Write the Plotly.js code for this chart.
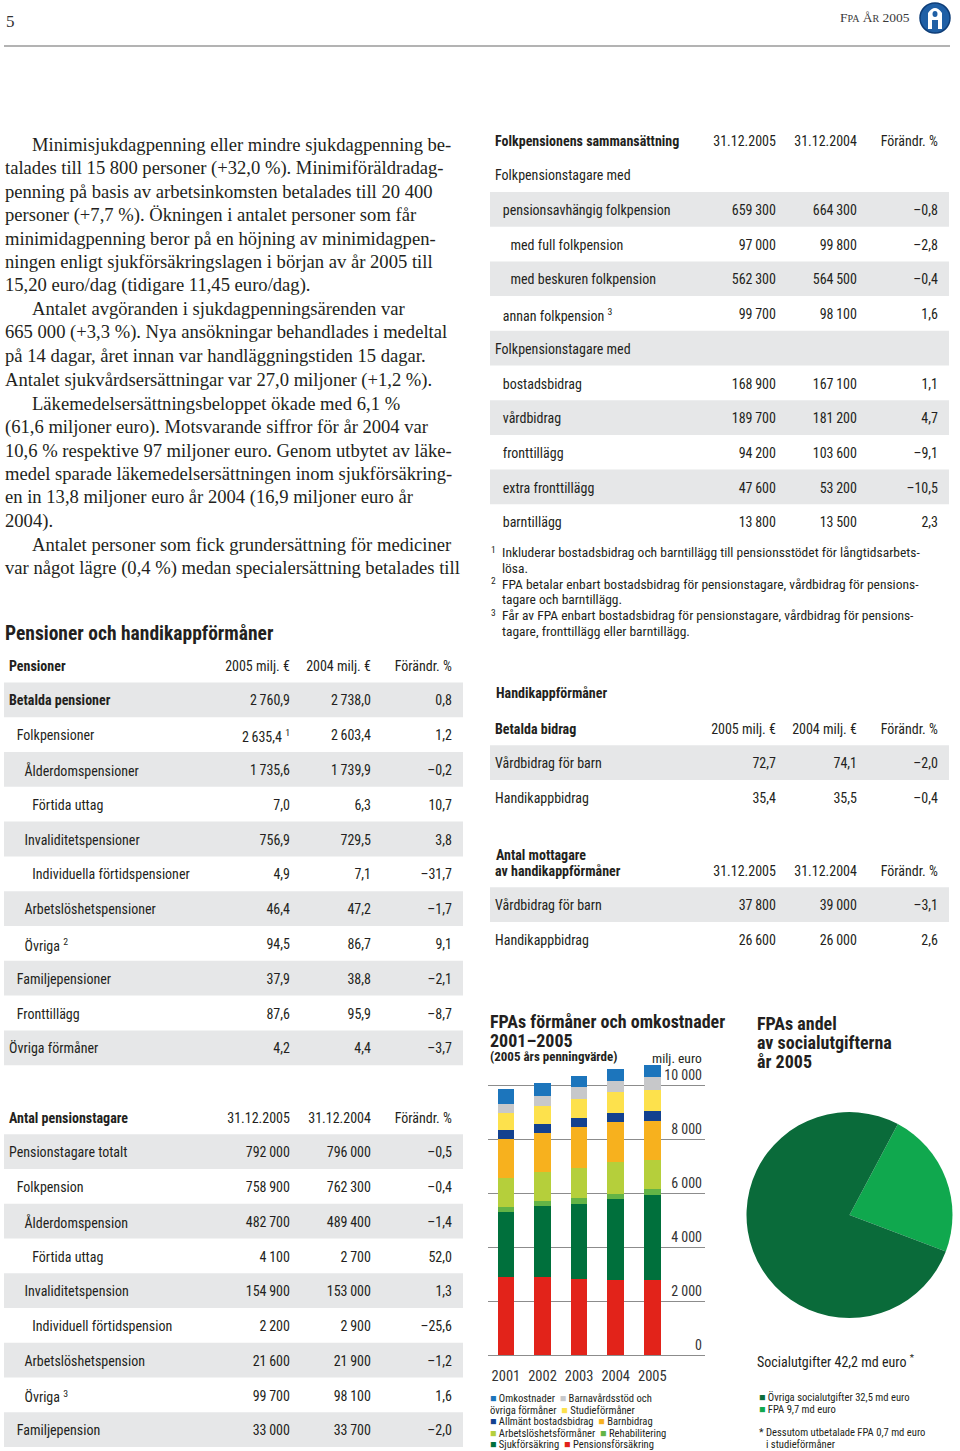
<!DOCTYPE html>
<html><head><meta charset="utf-8">
<script src="https://cdn.plot.ly/plotly-3.0.1.min.js"></script>
<style>html,body{margin:0;padding:0;background:#fff}#page{width:960px;height:1451px}</style>
</head><body><div id="page"></div>
<script>
// ---------------- DATA ----------------
const years = ['2001', '2002', '2003', '2004', '2005'];
const seriesNames = ['Pensionsförsäkring', 'Sjukförsäkring', 'Rehabilitering', 'Arbetslöshetsförmåner',
  'Barnbidrag', 'Allmänt bostadsbidrag', 'Studieförmåner', 'Barnavårdsstöd och övriga förmåner', 'Omkostnader'];
const pensionsforsakring = [2900, 2900, 2815, 2780, 2780];
const sjukforsakring = [2380, 2630, 2790, 3000, 3150];
const rehabilitering = [185, 160, 220, 200, 210];
const arbetsloshetsformaner = [1100, 1100, 1110, 1150, 1075];
const barnbidrag = [1420, 1420, 1495, 1495, 1470];
const bostadsbidrag = [335, 360, 360, 345, 345];
const studieformaner = [655, 655, 705, 765, 790];
const barnavardsstod = [320, 385, 420, 430, 495];
const omkostnader = [545, 455, 430, 435, 430];
const yTicks = [0, 2000, 4000, 6000, 8000, 10000];

const pieLabels = ['FPA', 'Övriga socialutgifter'];
const pieValues = [9.7, 32.5];
const pieExtra = 0.7;

const pensionHeader = ['Pensioner', '2005 milj. €', '2004 milj. €', 'Förändr. %'];
const pensionLabels = ['Betalda pensioner', 'Folkpensioner', 'Ålderdomspensioner', 'Förtida uttag',
  'Invaliditetspensioner', 'Individuella förtidspensioner', 'Arbetslöshetspensioner', 'Övriga',
  'Familjepensioner', 'Fronttillägg', 'Övriga förmåner'];
const pensionLevel = [0, 1, 2, 3, 2, 3, 2, 2, 1, 1, 0];
const pensionLabelNote = ['', '', '', '', '', '', '', '2', '', '', ''];
const pension2005 = [2760.9, 2635.4, 1735.6, 7.0, 756.9, 4.9, 46.4, 94.5, 37.9, 87.6, 4.2];
const pension2005Note = ['', '1', '', '', '', '', '', '', '', '', ''];
const pension2004 = [2738.0, 2603.4, 1739.9, 6.3, 729.5, 7.1, 47.2, 86.7, 38.8, 95.9, 4.4];
const pensionChange = [0.8, 1.2, -0.2, 10.7, 3.8, -31.7, -1.7, 9.1, -2.1, -8.7, -3.7];

const tagareHeader = ['Antal pensionstagare', '31.12.2005', '31.12.2004', 'Förändr. %'];
const tagareLabels = ['Pensionstagare totalt', 'Folkpension', 'Ålderdomspension', 'Förtida uttag',
  'Invaliditetspension', 'Individuell förtidspension', 'Arbetslöshetspension', 'Övriga', 'Familjepension'];
const tagareLevel = [0, 1, 2, 3, 2, 3, 2, 2, 1];
const tagareLabelNote = ['', '', '', '', '', '', '', '3', ''];
const tagare2005 = [792000, 758900, 482700, 4100, 154900, 2200, 21600, 99700, 33000];
const tagare2004 = [796000, 762300, 489400, 2700, 153000, 2900, 21900, 98100, 33700];
const tagareChange = [-0.5, -0.4, -1.4, 52.0, 1.3, -25.6, -1.2, 1.6, -2.0];

const folkHeader = ['Folkpensionens sammansättning', '31.12.2005', '31.12.2004', 'Förändr. %'];
const folkLabels = ['Folkpensionstagare med', 'pensionsavhängig folkpension', 'med full folkpension',
  'med beskuren folkpension', 'annan folkpension', 'Folkpensionstagare med', 'bostadsbidrag',
  'vårdbidrag', 'fronttillägg', 'extra fronttillägg', 'barntillägg'];
const folkLevel = [0, 1, 2, 2, 1, 0, 1, 1, 1, 1, 1];
const folkLabelNote = ['', '', '', '', '3', '', '', '', '', '', ''];
const folk2005 = [null, 659300, 97000, 562300, 99700, null, 168900, 189700, 94200, 47600, 13800];
const folk2004 = [null, 664300, 99800, 564500, 98100, null, 167100, 181200, 103600, 53200, 13500];
const folkChange = [null, -0.8, -2.8, -0.4, 1.6, null, 1.1, 4.7, -9.1, -10.5, 2.3];

const folkFootnotes = [
  ['1', 'Inkluderar bostadsbidrag och barntillägg till pensionsstödet för långtidsarbets-', 'lösa.'],
  ['2', 'FPA betalar enbart bostadsbidrag för pensionstagare, vårdbidrag för pensions-', 'tagare och barntillägg.'],
  ['3', 'Får av FPA enbart bostadsbidrag för pensionstagare, vårdbidrag för pensions-', 'tagare, fronttillägg eller barntillägg.']
];

const bidragHeader = ['Betalda bidrag', '2005 milj. €', '2004 milj. €', 'Förändr. %'];
const bidragLabels = ['Vårdbidrag för barn', 'Handikappbidrag'];
const bidrag2005 = [72.7, 35.4];
const bidrag2004 = [74.1, 35.5];
const bidragChange = [-2.0, -0.4];

const mottagareHeader = ['Antal mottagare', 'av handikappförmåner', '31.12.2005', '31.12.2004', 'Förändr. %'];
const mottagareLabels = ['Vårdbidrag för barn', 'Handikappbidrag'];
const mottagare2005 = [37800, 26600];
const mottagare2004 = [39000, 26000];
const mottagareChange = [-3.1, 2.6];

const bodyLines = [
  [1, 'Minimisjukdagpenning eller mindre sjukdagpenning be-'],
  [0, 'talades till 15 800 personer (+32,0 %). Minimiföräldradag-'],
  [0, 'penning på basis av arbetsinkomsten betalades till 20 400'],
  [0, 'personer (+7,7 %). Ökningen i antalet personer som får'],
  [0, 'minimidagpenning beror på en höjning av minimidagpen-'],
  [0, 'ningen enligt sjukförsäkringslagen i början av år 2005 till'],
  [0, '15,20 euro/dag (tidigare 11,45 euro/dag).'],
  [1, 'Antalet avgöranden i sjukdagpenningsärenden var'],
  [0, '665 000 (+3,3 %). Nya ansökningar behandlades i medeltal'],
  [0, 'på 14 dagar, året innan var handläggningstiden 15 dagar.'],
  [0, 'Antalet sjukvårdsersättningar var 27,0 miljoner (+1,2 %).'],
  [1, 'Läkemedelsersättningsbeloppet ökade med 6,1 %'],
  [0, '(61,6 miljoner euro). Motsvarande siffror för år 2004 var'],
  [0, '10,6 % respektive 97 miljoner euro. Genom utbytet av läke-'],
  [0, 'medel sparade läkemedelsersättningen inom sjukförsäkring-'],
  [0, 'en in 13,8 miljoner euro år 2004 (16,9 miljoner euro år'],
  [0, '2004).'],
  [1, 'Antalet personer som fick grundersättning för mediciner'],
  [0, 'var något lägre (0,4 %) medan specialersättning betalades till']
];

// ---------------- STYLE ----------------
const seriesColors = ['#e2231a', '#00703c', '#63b446', '#b5cf3b', '#f7b11e', '#13418f', '#fde14c', '#c7c8ca', '#1c75bc'];
const pieColors = ['#10a84e', '#0a6b3a'];
const W = 960, H = 1451;
const X = v => v / W;
const Y = v => Math.max(0, Math.min(1, 1 - v / H));
const TXT = '#231f20';
const SANS = '"Liberation Sans Narrow", "Arial Narrow", "Roboto Condensed", "Liberation Sans", sans-serif';
const SERIF = '"Liberation Serif", "Times New Roman", serif';
const GRAY = '#e6e7e8';
const TEXT_SHIFT = 2;

function fmtNum(v, dec) {
  if (v === null || v === undefined) return '';
  const neg = v < 0;
  const parts = Math.abs(v).toFixed(dec).split('.');
  const intPart = parts[0].replace(/\B(?=(\d{3})+(?!\d))/g, '\u2009');
  return (neg ? '–' : '') + intPart + (parts[1] ? ',' + parts[1] : '');
}
const nb = s => String(s).replace(/ /g, '\u00A0');
const sp = s => s === '' ? '' : '<span>' + s + '</span>';
const sup = n => n ? '\u00A0<sup>' + n + '</sup>' : '';
const indent = l => '\u2002\u200A'.repeat(l);

const shapes = [];
function tableTrace(o) {
  const labelCol = o.labels.map((s, i) => sp(indent(o.levels ? o.levels[i] : 0) +
    (o.bold && o.bold[i] ? '<b>' + nb(s) + '</b>' : nb(s)) + sup(o.labelNotes ? o.labelNotes[i] : '')));
  const cols = o.cols.map(c => c.map(v => sp(nb(v))));
  // shaded rows (row 0 is the header row)
  o.labels.forEach((_, i) => {
    if (i % 2 === o.shadeStart) {
      const r = i + 1;
      shapes.push({type: 'rect', xref: 'paper', yref: 'paper', layer: 'below',
        x0: X(o.sx0), x1: X(o.sx1), y0: Y(o.top + o.rowH * (r + 1)), y1: Y(o.top + o.rowH * r),
        fillcolor: GRAY, line: {width: 0}});
    }
  });
  const tTop = o.top + TEXT_SHIFT;
  const bottom = Math.min(H, tTop + o.rowH * (o.labels.length + 1) + 1.5);
  return {
    type: 'table',
    domain: {x: [X(o.x0), X(o.x1)], y: [Y(bottom), Y(tTop)]},
    columnwidth: o.widths,
    header: {
      values: ['<b>' + nb(o.header[0]) + '</b>'].concat(o.header.slice(1).map(h => sp(nb(h)))),
      align: ['left', 'right', 'right', 'right'],
      height: o.rowH,
      fill: {color: 'rgba(255,255,255,0)'},
      line: {width: 0, color: 'rgba(0,0,0,0)'},
      font: {family: SANS, size: 14, color: TXT}
    },
    cells: {
      values: [labelCol].concat(cols),
      align: ['left', 'right', 'right', 'right'],
      height: o.rowH,
      fill: {color: 'rgba(255,255,255,0)'},
      line: {width: 0, color: 'rgba(0,0,0,0)'},
      font: {family: SANS, size: 14, color: TXT}
    },
    hoverinfo: 'skip'
  };
}

// ---------------- TRACES ----------------
const seriesValues = [pensionsforsakring, sjukforsakring, rehabilitering, arbetsloshetsformaner, barnbidrag,
  bostadsbidrag, studieformaner, barnavardsstod, omkostnader];
const traces = seriesValues.map((vals, i) => ({
  type: 'bar', x: years, y: vals, name: seriesNames[i],
  marker: {color: seriesColors[i], line: {width: 0}},
  xaxis: 'x', yaxis: 'y', showlegend: false, hoverinfo: 'skip'
}));

traces.push({
  type: 'pie', labels: pieLabels, values: pieValues, sort: false, direction: 'clockwise', rotation: 28,
  marker: {colors: pieColors, line: {width: 0}}, textinfo: 'none', hoverinfo: 'skip', showlegend: false,
  domain: {x: [X(746), X(953)], y: [Y(1318), Y(1112)]}
});

const LEFT = {x0: 1, x1: 460, sx0: 4, sx1: 463, widths: [216, 81, 81, 81]};
const RIGHT = {x0: 487, x1: 946, sx0: 490, sx1: 949, widths: [216, 81, 81, 81]};

traces.push(tableTrace(Object.assign({}, LEFT, {
  top: 647.6, rowH: 34.8, header: pensionHeader,
  labels: pensionLabels, levels: pensionLevel, labelNotes: pensionLabelNote,
  bold: pensionLabels.map((_, i) => i === 0), shadeStart: 0,
  cols: [pension2005.map((v, i) => fmtNum(v, 1) + sup(pension2005Note[i])), pension2004.map(v => fmtNum(v, 1)), pensionChange.map(v => fmtNum(v, 1))]
})));
traces.push(tableTrace(Object.assign({}, LEFT, {
  top: 1099.6, rowH: 34.75, header: tagareHeader,
  labels: tagareLabels, levels: tagareLevel, labelNotes: tagareLabelNote, shadeStart: 0,
  cols: [tagare2005.map(v => fmtNum(v, 0)), tagare2004.map(v => fmtNum(v, 0)), tagareChange.map(v => fmtNum(v, 1))]
})));
traces.push(tableTrace(Object.assign({}, RIGHT, {
  top: 122.6, rowH: 34.7, header: folkHeader,
  labels: folkLabels, levels: folkLevel, labelNotes: folkLabelNote, shadeStart: 1,
  cols: [folk2005.map(v => fmtNum(v, 0)), folk2004.map(v => fmtNum(v, 0)), folkChange.map(v => fmtNum(v, 1))]
})));
traces.push(tableTrace(Object.assign({}, RIGHT, {
  top: 710.6, rowH: 34.7, header: bidragHeader,
  labels: bidragLabels, shadeStart: 0,
  cols: [bidrag2005.map(v => fmtNum(v, 1)), bidrag2004.map(v => fmtNum(v, 1)), bidragChange.map(v => fmtNum(v, 1))]
})));
traces.push(tableTrace(Object.assign({}, RIGHT, {
  top: 852.6, rowH: 34.7, header: mottagareHeader.slice(1),
  labels: mottagareLabels, shadeStart: 0,
  cols: [mottagare2005.map(v => fmtNum(v, 0)), mottagare2004.map(v => fmtNum(v, 0)), mottagareChange.map(v => fmtNum(v, 1))]
})));

// ---------------- ANNOTATIONS ----------------
const ann = [];
function txt(x, y, text, size, opts) {
  opts = opts || {};
  ann.push({
    xref: 'paper', yref: 'paper', x: X(x), y: Y(y), text: text, showarrow: false,
    xanchor: opts.anchor || 'left', yanchor: 'middle', align: opts.anchor || 'left',
    font: {family: opts.family || SANS, size: size, color: opts.color || TXT}
  });
}
// page header
txt(4, 22, '5', 17, {family: SERIF, color: '#333'});
txt(912, 18, 'F<span style="font-size:10px">PA</span> Å<span style="font-size:10px">R</span> 2005', 13.5, {family: SERIF, color: '#3a3a3a', anchor: 'right'});
// body text
bodyLines.forEach((l, i) => txt(l[0] ? 30 : 3, 144 + i * 23.55, l[1], 18.6, {family: SERIF}));
// headings
txt(3, 633, '<b>Pensioner och handikappförmåner</b>', 19.5);
txt(494, 693, '<b>Handikappförmåner</b>', 14);
txt(494, 855, '<b>' + mottagareHeader[0] + '</b>', 14);
// footnotes
folkFootnotes.forEach((f, i) => {
  txt(489, 549 + i * 31.6, f[0], 9.5);
  txt(500, 552 + i * 31.6, f[1], 13.5);
  txt(500, 567.5 + i * 31.6, f[2], 13.5);
});
// bar chart titles
txt(488, 1021, '<b>FPAs förmåner och omkostnader</b>', 18);
txt(488, 1040, '<b>' + years[0] + '–' + years[years.length - 1] + '</b>', 18);
txt(488, 1056, '<b>(2005 års penningvärde)</b>', 13);
txt(704, 1058, 'milj. euro', 13.5, {anchor: 'right'});
// bar legend
const sq = i => '<span style="color:' + seriesColors[i] + '">■</span>';
const nm7 = seriesNames[7].split(' övriga');
const legendLines = [
  sq(8) + ' ' + seriesNames[8] + '  ' + sq(7) + ' ' + nm7[0],
  'övriga' + nm7[1] + '  ' + sq(6) + ' ' + seriesNames[6],
  sq(5) + ' ' + seriesNames[5] + '  ' + sq(4) + ' ' + seriesNames[4],
  sq(3) + ' ' + seriesNames[3] + '  ' + sq(2) + ' ' + seriesNames[2],
  sq(1) + ' ' + seriesNames[1] + '  ' + sq(0) + ' ' + seriesNames[0]
];
legendLines.forEach((t, i) => txt(488, 1398.5 + i * 11.55, t, 10.6));
// pie titles & legend
txt(755, 1023, '<b>FPAs andel</b>', 18);
txt(755, 1042, '<b>av socialutgifterna</b>', 18);
txt(755, 1061, '<b>år 2005</b>', 18);
const pieTotal = pieValues.reduce((a, b) => a + b, 0);
txt(755, 1361, 'Socialutgifter ' + fmtNum(pieTotal, 1) + ' md euro <sup>*</sup>', 14);
const psq = i => '<span style="color:' + pieColors[i] + '">■</span>';
txt(757, 1397.5, psq(1) + ' ' + pieLabels[1] + ' ' + fmtNum(pieValues[1], 1) + ' md euro', 10.6);
txt(757, 1409, psq(0) + ' ' + pieLabels[0] + ' ' + fmtNum(pieValues[0], 1) + ' md euro', 10.6);
txt(757, 1432, '* Dessutom utbetalade FPA ' + fmtNum(pieExtra, 1) + ' md euro', 10.6);
txt(764, 1444, 'i studieförmåner', 10.6);

// ---------------- PAGE SHAPES ----------------
shapes.push(
  {type: 'line', xref: 'paper', yref: 'paper', x0: X(4), x1: X(950), y0: Y(46), y1: Y(46), line: {color: '#9a9a9a', width: 1.5}},
  {type: 'circle', xref: 'paper', yref: 'paper', x0: X(920), x1: X(950), y0: Y(33), y1: Y(3), fillcolor: '#1f5fa5', line: {color: '#0d3d78', width: 1.5}},
  {type: 'path', xref: 'paper', yref: 'paper',
    path: 'M ' + X(928) + ',' + Y(29) + ' L ' + X(928) + ',' + Y(13) + ' Q ' + X(935) + ',' + Y(3) + ' ' + X(942) + ',' + Y(13) + ' L ' + X(942) + ',' + Y(29) + ' L ' + X(938) + ',' + Y(29) + ' L ' + X(938) + ',' + Y(20) + ' L ' + X(932) + ',' + Y(20) + ' L ' + X(932) + ',' + Y(29) + ' Z',
    fillcolor: '#ffffff', line: {width: 0}},
  {type: 'circle', xref: 'paper', yref: 'paper', x0: X(932.5), x1: X(937.5), y0: Y(17), y1: Y(11), fillcolor: '#1f5fa5', line: {width: 0}}
);

const layout = {
  width: W, height: H, autosize: false,
  margin: {l: 0, r: 0, t: 0, b: 0, pad: 0},
  paper_bgcolor: '#fff', plot_bgcolor: 'rgba(0,0,0,0)',
  separators: ', ',
  barmode: 'stack', bargap: 0.55,
  showlegend: false,
  xaxis: {domain: [X(488), X(705)], type: 'category', range: [-0.49, 5.44], showgrid: false, zeroline: false,
    showline: false, ticks: '', ticklabelstandoff: 10, tickfont: {family: SANS, size: 14.5, color: '#333'}, fixedrange: true},
  yaxis: {domain: [Y(1355), Y(1058)], range: [0, 11000], tickvals: yTicks, tickformat: ',d', side: 'right',
    ticklabelposition: 'inside top', showgrid: true, gridcolor: '#8c8c8c', gridwidth: 1, zeroline: true,
    zerolinecolor: '#8c8c8c', zerolinewidth: 1, showline: false, ticks: '',
    tickfont: {family: SANS, size: 14, color: '#333'}, fixedrange: true},
  annotations: ann,
  shapes: shapes
};

Plotly.newPlot('page', traces, layout, {staticPlot: true, displayModeBar: false});
</script>
</body></html>
